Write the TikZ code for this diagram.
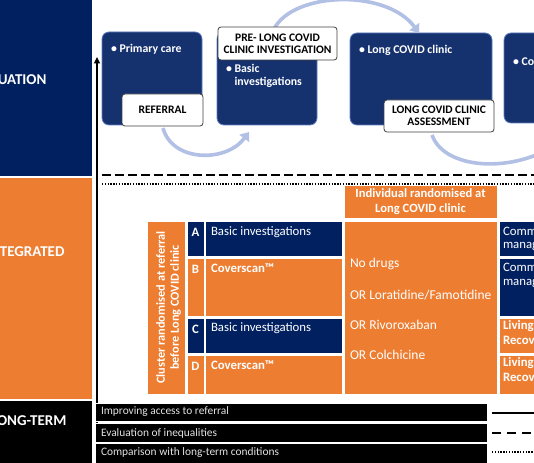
\documentclass[tikz,border=0pt]{standalone}
\usepackage{fontspec}
\setmainfont{Carlito}
\usetikzlibrary{arrows.meta,fit,calc}
\definecolor{navy}{HTML}{002060}
\definecolor{boxnavy}{HTML}{15316E}
\definecolor{boxedge}{HTML}{5C7CC4}
\definecolor{orng}{HTML}{ED7D31}
\definecolor{arcblue}{HTML}{B1C0E4}
\definecolor{lightgray}{HTML}{E2E2E2}
\begin{document}
\begin{tikzpicture}[x=1pt,y=-1pt,
  plain/.style={inner sep=0pt, outer sep=0pt},
  navyrow/.style={plain, fill=navy, draw=white, line width=0.8pt},
  orangerow/.style={plain, fill=orng, draw=white, line width=0.8pt},
  flowbox/.style={plain, fill=boxnavy, draw=boxedge, line width=0.8pt, rounded corners=7pt},
  callout/.style={plain, fill=white, draw=black!75, line width=0.8pt, rounded corners=3pt},
  callouttxt/.style={plain, align=center, text=black, font=\bfseries\fontsize{11.5}{12.2}\selectfont},
  sidetxt/.style={plain, text=white, font=\bfseries\fontsize{15}{17}\selectfont},
  flowtxt/.style={plain, text=white, align=left, font=\bfseries\fontsize{11.8}{12.5}\selectfont},
  rowtxt/.style={plain, text=white, align=left, font=\fontsize{12.8}{13.5}\selectfont},
  rowbold/.style={plain, text=white, align=left, font=\bfseries\fontsize{12.8}{15}\selectfont},
  drugtxt/.style={plain, text=white, anchor=west, font=\fontsize{13.5}{15}\selectfont},
  bartxt/.style={plain, text=lightgray, anchor=west, font=\fontsize{11.4}{13}\selectfont},
  arcline/.style={draw=arcblue, line width=3.6pt, -{Triangle[width=12pt,length=8pt]}},
]
\useasboundingbox (0,0) rectangle (534,462);
\begin{scope}
\clip (0,0) rectangle (534,462);

% left column
\node[plain, fill=navy, fit={(-10,-10) (92,176)}] (evalbox) {};
\node[sidetxt, anchor=east] (evaltxt) at (46.5,80) {EVALUATION};
\node[plain, fill=orng, fit={(-10,178) (92,399)}] (intbox) {};
\node[sidetxt, anchor=east] (inttxt) at (64.5,252) {INTEGRATED};
\node[plain, fill=black, fit={(-10,401) (92,470)}] (ltbox) {};
\node[sidetxt, anchor=east] (lttxt) at (66.5,421) {LONG-TERM};

% vertical axis arrow
\coordinate (vbot) at (97,465);
\coordinate (vtop) at (97,57);
\draw[line width=1.6pt, -{Triangle[width=6pt,length=6.5pt]}] (vbot) -- (vtop);

% top flow boxes
\node[flowbox, fit={(102,32) (202,125)}] (b1) {};
\node[flowtxt, anchor=west] (b1t) at (111,49) {• Primary care};
\node[flowbox, fit={(217,32) (317,125)}] (b2) {};
\node[flowtxt, anchor=west] (b2t) at (226,76) {• Basic\\\phantom{• }investigations};
\node[flowbox, fit={(350,33) (492,125)}] (b3) {};
\node[flowtxt, anchor=west] (b3t) at (359,50) {• Long COVID clinic};
\node[flowbox, fit={(504,33) (570,123)}] (b4) {};
\node[flowtxt, anchor=west] (b4t) at (513,62) {• Community};

% arcs
\coordinate (a1end) at (249,132);
\draw[arcline] (163,128) .. controls (172,162) and (226,163) .. (a1end);
\coordinate (a2start) at (272,34);
\coordinate (a2end) at (419,33);
\draw[arcline] (a2start) .. controls (285,-8) and (385,-13) .. (a2end);
\coordinate (a3start) at (432,135);
\coordinate (a3end) at (565,138);
\draw[draw=arcblue, line width=3.6pt] (a3start) .. controls (445,172) and (522,174) .. (a3end);

% callouts
\node[callout, fit={(122,94) (203,126)}] (ref) {};
\node[callouttxt] (reft) at (ref.center) {REFERRAL};
\node[callout, fit={(218,27) (337,60)}] (pre) {};
\node[callouttxt] (pret) at (pre.center) {PRE- LONG COVID\\CLINIC INVESTIGATION};
\node[callout, fit={(384,100) (494,132)}] (assess) {};
\node[callouttxt] (assesst) at (assess.center) {LONG COVID CLINIC\\ASSESSMENT};

% separator lines
\coordinate (dash1) at (102,175);
\coordinate (dash2) at (534,175);
\draw[line width=2.3pt, dash pattern=on 8.5pt off 4.5pt] (dash1) -- (dash2);
\coordinate (dot1) at (102,184);
\coordinate (dot2) at (534,184);
\draw[line width=1.4pt, dash pattern=on 1.3pt off 1.5pt] (dot1) -- (dot2);

% individual randomised header
\node[orangerow, fit={(344,185) (497,218)}] (indiv) {};
\node[plain, align=center, text=white, font=\bfseries\fontsize{12.6}{14.5}\selectfont]
  (indivt) at (indiv.center) {Individual randomised at\\Long COVID clinic};

% cluster label
\node[orangerow, fit={(147,221) (185,394)}] (cluster) {};
\node[plain, rotate=90, align=center, text=white, font=\bfseries\fontsize{12.3}{14}\selectfont]
  (clustert) at ($(cluster.center)+(2.5,0)$) {Cluster randomised at referral\\before Long COVID clinic};

% letter column
\node[navyrow, fit={(187,221) (204,256)}] (la) {};
\node[orangerow, fit={(187,258) (204,316)}] (lb) {};
\node[navyrow, fit={(187,318) (204,353)}] (lc) {};
\node[orangerow, fit={(187,355) (204,394)}] (ld) {};
\foreach \n/\l in {la/A,lb/B,lc/C,ld/D}
  \node[rowbold, anchor=center] (\n t) at ($(\n.north)+(0,11)$) {\l};

% content column
\node[navyrow, fit={(205,221) (342,256)}] (ca) {};
\node[orangerow, fit={(205,258) (342,316)}] (cb) {};
\node[navyrow, fit={(205,318) (342,353)}] (cc) {};
\node[orangerow, fit={(205,355) (342,394)}] (cd) {};
\node[rowtxt, anchor=west] (cat) at ($(ca.north west)+(6,11)$) {Basic investigations};
\node[rowbold, anchor=west] (cbt) at ($(cb.north west)+(6,10.5)$) {Coverscan™};
\node[rowtxt, anchor=west] (cct) at ($(cc.north west)+(6,10)$) {Basic investigations};
\node[rowbold, anchor=west] (cdt) at ($(cd.north west)+(6,10)$) {Coverscan™};

% drugs
\node[orangerow, fit={(344,221) (497,394)}] (drugs) {};
\node[drugtxt] (d1) at (350,264) {No drugs};
\node[drugtxt] (d2) at (350,295) {OR Loratidine/Famotidine};
\node[drugtxt] (d3) at (350,325) {OR Rivoroxaban};
\node[drugtxt] (d4) at (350,355) {OR Colchicine};

% right column
\node[navyrow, fit={(499,221) (570,256)}] (r1) {};
\node[navyrow, fit={(499,258) (570,316)}] (r2) {};
\node[orangerow, fit={(499,318) (570,353)}] (r3) {};
\node[orangerow, fit={(499,355) (570,394)}] (r4) {};
\node[rowtxt, anchor=west] (r1t) at (503,238.5) {Community\\management};
\node[rowtxt, anchor=west] (r2t) at (503,275) {Community\\management};
\node[rowbold, anchor=west] (r3t) at (503,333.5) {Living with\\Recovery};
\node[rowbold, anchor=west] (r4t) at (503,370.5) {Living with\\Recovery};

% bottom bars
\node[plain, fill=black, draw=white, line width=0.6pt, fit={(95,403) (487,421.5)}] (bar1) {};
\node[plain, fill=black, draw=white, line width=0.6pt, fit={(95,423) (487,442)}] (bar2) {};
\node[plain, fill=black, draw=white, line width=0.6pt, fit={(95,443.5) (487,466)}] (bar3) {};
\node[bartxt] (bar1t) at (101,412) {Improving access to referral};
\node[bartxt] (bar2t) at (101,433) {Evaluation of inequalities};
\node[bartxt] (bar3t) at (101,453) {Comparison with long-term conditions};

% legend lines
\coordinate (l1a) at (492,413); \coordinate (l1b) at (534,413);
\coordinate (l2a) at (492,433); \coordinate (l2b) at (534,433);
\coordinate (l3a) at (492,452); \coordinate (l3b) at (534,452);
\draw[line width=1.4pt] (l1a) -- (l1b);
\draw[line width=2pt, dash pattern=on 9pt off 6pt] (l2a) -- (l2b);
\draw[line width=1.4pt, dash pattern=on 1.3pt off 1.5pt] (l3a) -- (l3b);
\end{scope}
\end{tikzpicture}
\end{document}
